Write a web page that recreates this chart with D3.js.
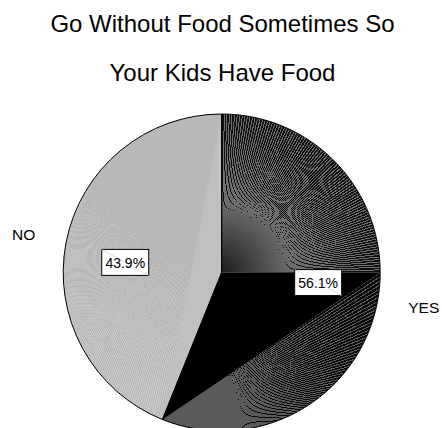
<!DOCTYPE html>
<html>
<head>
<meta charset="utf-8">
<script src="https://cdn.jsdelivr.net/npm/d3@7"></script>
<style>
  html, body { margin: 0; padding: 0; background: #fff; }
  svg { display: block; font-family: "Liberation Sans", Arial, sans-serif; }
</style>
</head>
<body>
<svg id="chart" width="442" height="428"></svg>
<script>
// Survey answers and their shares (percent)
const categories = ["YES", "NO"];
const values = [56.1, 43.9];
const percentLabels = ["56.1%", "43.9%"];
const titleLines = ["Go Without Food Sometimes So", "Your Kids Have Food"];

const svg = d3.select("#chart");
const defs = svg.append("defs");
const cx = 221.7, cy = 272.5, R = 158.5;

// Title
svg.append("g").selectAll("text")
  .data(titleLines)
  .join("text")
  .attr("x", 222.5)
  .attr("y", (d, i) => 32 + i * 49)
  .attr("text-anchor", "middle")
  .attr("font-size", 24)
  .attr("fill", "#000")
  .text(d => d);

const pie = d3.pie().sort(null).value(d => d);
const arcs = pie(values);
const arc = d3.arc().innerRadius(0).outerRadius(R);

const g = svg.append("g").attr("transform", `translate(${cx},${cy})`);

// point on a circle of radius r at angle a (clockwise from 12 o'clock)
const pt = (a, r) => [r * Math.sin(a), -r * Math.cos(a)];

// mask that fades shading lines where they crowd together near their origin
function fadeMask(id, origin, reach, low) {
  const gradId = id + "-grad";
  const grad = defs.append("radialGradient").attr("id", gradId)
    .attr("gradientUnits", "userSpaceOnUse")
    .attr("cx", origin[0]).attr("cy", origin[1]).attr("r", reach);
  grad.append("stop").attr("offset", 0).attr("stop-color", "#fff").attr("stop-opacity", low);
  grad.append("stop").attr("offset", 1).attr("stop-color", "#fff").attr("stop-opacity", 1);
  defs.append("mask").attr("id", id)
    .attr("maskUnits", "userSpaceOnUse")
    .attr("x", -R - 10).attr("y", -R - 10).attr("width", 2 * R + 20).attr("height", 2 * R + 20)
    .append("rect")
    .attr("x", -R - 10).attr("y", -R - 10).attr("width", 2 * R + 20).attr("height", 2 * R + 20)
    .attr("fill", `url(#${gradId})`);
  return id;
}

// slice shading: each fan has a ground colour under fine aliased lines
const styles = {
  YES: {
    solid: "#000000",
    fanA: { ground: "#101010", line: "#6e6e6e", spacing: 2.6, fade: [70, 0.15] },
    fanB: { ground: "#080808", line: "#5a5a5a", spacing: 4.2 }
  },
  NO: {
    solid: "#c0c0c0",
    fanA: { ground: "#c8c8c8", line: "#b8b8b8", spacing: 2.2 }
  }
};

// a fan of thin lines from an origin point to the rim between angles a0 and a1
function fan(sel, origin, a0, a1, f, key) {
  const wedge = d3.path();
  wedge.moveTo(origin[0], origin[1]);
  const s = pt(a0, R);
  wedge.lineTo(s[0], s[1]);
  wedge.arc(0, 0, R, a0 - Math.PI / 2, a1 - Math.PI / 2);
  wedge.closePath();
  sel.append("path").attr("d", wedge.toString()).attr("fill", f.ground);

  const n = Math.max(2, Math.ceil((a1 - a0) * R / f.spacing));
  const angles = d3.range(n + 1).map(i => a0 + (a1 - a0) * i / n);
  const lines = sel.append("g")
    .attr("stroke", f.line)
    .attr("stroke-width", 1)
    .attr("shape-rendering", "crispEdges");
  if (f.fade) {
    lines.attr("mask", `url(#${fadeMask("fade-" + key, origin, f.fade[0], f.fade[1])})`);
  }
  lines.selectAll("line")
    .data(angles)
    .join("line")
    .attr("x1", origin[0]).attr("y1", origin[1])
    .attr("x2", a => pt(a, R)[0]).attr("y2", a => pt(a, R)[1]);
}

arcs.forEach((d, i) => {
  const name = categories[i];
  const st = styles[name];
  const clipId = "clip-" + name;
  g.append("clipPath").attr("id", clipId)
    .append("path").attr("d", arc(d));

  const slice = g.append("g").attr("clip-path", `url(#${clipId})`);

  const a0 = d.startAngle, a1 = d.endAngle;
  if (a1 - a0 > Math.PI) {
    // large slice: fan from the centre over the first quarter,
    // fan from the closing corner over the rest, solid triangle between
    const aq = a0 + Math.PI / 2;
    fan(slice, [0, 0], a0, aq, st.fanA, name + "A");
    fan(slice, pt(a1, R), aq, a1, st.fanB, name + "B");
    slice.append("path")
      .attr("d", d3.line()([[0, 0], pt(aq, R), pt(a1, R)]) + "Z")
      .attr("fill", st.solid);
  } else {
    // small slice: fan from the closing edge, solid triangle at the centre
    fan(slice, pt(a1, R), a0, a1, st.fanA, name + "A");
    slice.append("path")
      .attr("d", d3.line()([[0, 0], pt(a0, R), pt(a1, R)]) + "Z")
      .attr("fill", st.solid);
  }
});

// outline of the pie and the slice edges
g.append("g").selectAll("path")
  .data(arcs)
  .join("path")
  .attr("d", arc)
  .attr("fill", "none")
  .attr("stroke", "#000")
  .attr("stroke-width", 1);

// category names outside the pie
const outer = d3.arc().innerRadius(190).outerRadius(190);
g.append("g").selectAll("text")
  .data(arcs)
  .join("text")
  .attr("x", d => outer.centroid(d)[0])
  .attr("y", d => outer.centroid(d)[1] + 4)
  .attr("text-anchor", d => (d.startAngle + d.endAngle) / 2 > Math.PI ? "end" : "start")
  .attr("font-size", 15.5)
  .attr("fill", "#000")
  .text((d, i) => categories[i]);

// boxed percentage labels inside the slices
const boxW = 47, boxH = 26;
const lab = g.append("g").selectAll("g")
  .data(arcs)
  .join("g")
  .attr("transform", d => {
    const a = (d.startAngle + d.endAngle) / 2 - 5 * Math.PI / 180;
    const p = pt(a, 97);
    return `translate(${p[0]},${p[1]})`;
  });
lab.append("rect")
  .attr("x", -boxW / 2).attr("y", -boxH / 2)
  .attr("width", boxW).attr("height", boxH)
  .attr("fill", "#fff").attr("stroke", "#000").attr("stroke-width", 1);
lab.append("line")
  .attr("x1", -boxW / 2).attr("y1", -boxH / 2)
  .attr("x2", boxW / 2).attr("y2", boxH / 2)
  .attr("stroke", "#d4d4d4").attr("stroke-width", 0.8);
lab.append("text")
  .attr("y", 5.5)
  .attr("text-anchor", "middle")
  .attr("font-size", 14)
  .attr("fill", "#000")
  .text((d, i) => percentLabels[i]);
</script>
</body>
</html>
